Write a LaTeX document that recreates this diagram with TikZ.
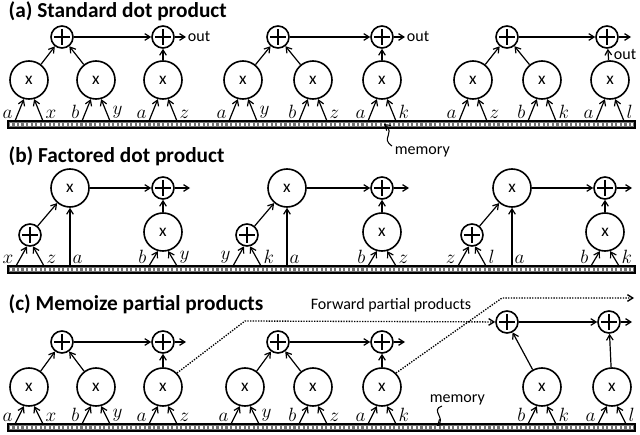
\documentclass[tikz,border=0pt]{standalone}
\usepackage{fontspec}
\setmainfont{Carlito}
\usetikzlibrary{arrows.meta,calc,decorations.pathmorphing}
\begin{document}
\begin{tikzpicture}[x=0.75pt,y=-0.75pt,line width=0.9pt,
  >={Straight Barb[length=4pt,width=5pt]},
  mul/.style={circle,draw,line width=1.2pt,minimum size=28.5pt,inner sep=0pt,font=\fontsize{13}{13}\selectfont},
  pls/.style={circle,draw,line width=1.2pt,minimum size=16.5pt,inner sep=0pt,
    path picture={\draw[line width=1.5pt]
      ([yshift=-2.2pt]path picture bounding box.north) -- ([yshift=2.2pt]path picture bounding box.south)
      ([xshift=2.2pt]path picture bounding box.west) -- ([xshift=-2.2pt]path picture bounding box.east);}},
  lab/.style={inner sep=1.5pt,font=\fontsize{14}{14}\selectfont},
  ttl/.style={anchor=west,inner sep=0pt,font=\fontsize{16}{16}\selectfont\bfseries},
  txt/.style={inner sep=1pt,font=\fontsize{12}{12}\selectfont}]
\useasboundingbox (0,0) rectangle (640,435);
\def\mulkind{mul}
\newcommand\membar[2]{%
  \draw[line width=0.8pt,fill=black!55] (8,#2) rectangle (635,#2+7);
  \draw[white,line width=1.6pt,dash pattern=on 1.8pt off 1.6pt] (10,#2+3.5) -- (633,#2+3.5);}
% two-input node: type, name, x, y, bartop, left, right, dx
\newcommand\twoin[8]{%
  \def\thiskind{#1}%
  \node[#1] (#2) at (#3,#4) {\ifx\thiskind\mulkind x\fi};
  \coordinate (#2l) at ({#3-#8},#5);
  \coordinate (#2r) at ({#3+#8},#5);
  \draw[->] (#2l) -- (#2.255);
  \draw[->] (#2r) -- (#2.285);
  \node[lab,anchor=south east] at (#2l) {$#6$};
  \node[lab,anchor=south west] at (#2r) {$#7$};}
% ---------- (a)
\node[ttl] (ta) at (8,11) {(a) Standard dot product};
\membar{a}{121}
\twoin{mul}{a1}{29}{80}{121}{a}{x}{14}
\twoin{mul}{a2}{96}{80}{121}{b}{y}{14}
\twoin{mul}{a3}{163}{80}{121}{a}{z}{14}
\twoin{mul}{a4}{243}{80}{121}{a}{y}{14}
\twoin{mul}{a5}{313}{80}{121}{b}{z}{14}
\twoin{mul}{a6}{382}{80}{121}{a}{k}{14}
\twoin{mul}{a7}{473}{80}{121}{a}{z}{14}
\twoin{mul}{a8}{542}{80}{121}{b}{k}{14}
\twoin{mul}{a9}{610}{80}{121}{a}{l}{14}
\node[pls] (ap1) at (62,37) {};
\node[pls] (ap2) at (163,37) {};
\node[pls] (ap3) at (278,37) {};
\node[pls] (ap4) at (382,37) {};
\node[pls] (ap5) at (507,37) {};
\node[pls] (ap6) at (607,37) {};
\draw[->] (a1) -- (ap1); \draw[->] (a2) -- (ap1); \draw[->] (ap1) -- (ap2); \draw[->] (a3) -- (ap2);
\draw[->] (a4) -- (ap3); \draw[->] (a5) -- (ap3); \draw[->] (ap3) -- (ap4); \draw[->] (a6) -- (ap4);
\draw[->] (a7) -- (ap5); \draw[->] (a8) -- (ap5); \draw[->] (ap5) -- (ap6); \draw[->] (a9) -- (ap6);
\coordinate (ao2) at (186,37); \draw[->] (ap2) -- (ao2); \node[txt,anchor=west] (oa2) at (ao2) {out};
\coordinate (ao4) at (405,37); \draw[->] (ap4) -- (ao4); \node[txt,anchor=west] (oa4) at (ao4) {out};
\coordinate (ao6) at (631,37); \draw[->] (ap6) -- (ao6); \node[txt,anchor=west] (oa6) at (612,55) {out};
\coordinate (am0) at (384,124);
\draw[->,line width=0.8pt] (392,146) .. controls (380,138) and (396,134) .. (am0);
\node[txt,anchor=west] (ma) at (393,152) {memory};
% ---------- (b)
\node[ttl] (tb) at (8,156) {(b) Factored dot product};
\membar{b}{266}
\newcommand\fgroup[8]{% prefix, xp, xb, xr, l1, l2, lb, ly
  \twoin{pls}{#1p}{#2}{235}{266}{#5}{#6}{14}
  \node[mul] (#1b) at (#3,188) {x};
  \coordinate (#1a) at (#3,266);
  \draw[->] (#1a) -- (#1b); \node[lab,anchor=south west] at (#1a) {$a$};
  \draw[->] (#1p) -- (#1b);
  \twoin{mul}{#1m}{#4}{232}{266}{#7}{#8}{14}
  \node[pls] (#1q) at (#4,188) {};
  \draw[->] (#1b) -- (#1q); \draw[->] (#1m) -- (#1q);
  \coordinate (#1o) at ({#4+27},188); \draw[->] (#1q) -- (#1o);}
\fgroup{b1}{30}{70}{163}{x}{z}{b}{y}
\fgroup{b2}{247}{287}{382}{y}{k}{b}{z}
\fgroup{b3}{472}{512}{605}{z}{l}{b}{k}
% ---------- (c)
\node[ttl] (tc) at (8,304) {(c) Memoize partial products};
\membar{c}{424}
\twoin{mul}{c1}{29}{387}{424}{a}{x}{14}
\twoin{mul}{c2}{96}{387}{424}{b}{y}{14}
\twoin{mul}{c3}{163}{387}{424}{a}{z}{14}
\twoin{mul}{c4}{245}{387}{424}{a}{y}{14}
\twoin{mul}{c5}{313}{387}{424}{b}{z}{14}
\twoin{mul}{c6}{382}{387}{424}{a}{k}{14}
\twoin{mul}{c7}{542}{387}{424}{b}{k}{14}
\twoin{mul}{c8}{612}{387}{424}{a}{l}{14}
\node[pls] (cp1) at (62,342) {};
\node[pls] (cp2) at (163,342) {};
\node[pls] (cp3) at (278,342) {};
\node[pls] (cp4) at (382,342) {};
\node[pls] (cp5) at (507,322) {};
\node[pls] (cp6) at (609,322) {};
\draw[->] (c1) -- (cp1); \draw[->] (c2) -- (cp1); \draw[->] (cp1) -- (cp2); \draw[->] (c3) -- (cp2);
\draw[->] (c4) -- (cp3); \draw[->] (c5) -- (cp3); \draw[->] (cp3) -- (cp4); \draw[->] (c6) -- (cp4);
\draw[->] (c7) -- (cp5); \draw[->] (cp5) -- (cp6); \draw[->] (c8) -- (cp6);
\coordinate (co2) at (186,342); \draw[->] (cp2) -- (co2);
\coordinate (co4) at (405,342); \draw[->] (cp4) -- (co4);
\coordinate (co6) at (632,322); \draw[->] (cp6) -- (co6);
\coordinate (cd1) at (245,321); \coordinate (cd2) at (502,298); \coordinate (cd3) at (634,298);
\draw[->,dash pattern=on 1pt off 1pt,line width=1pt] (c3.north east) -- (cd1) -- (cp5);
\draw[->,dash pattern=on 1pt off 1pt,line width=1pt] (c6.north east) -- (cd2) -- (cd3);
\node[txt,anchor=south] (fw) at (391,314) {Forward partial products};
\node[txt,anchor=west] (mc) at (428,400) {memory};
\coordinate (cm0) at (437,426);
\draw[->,line width=0.8pt] (442,406) .. controls (430,410) and (446,418) .. (cm0);
\end{tikzpicture}
\end{document}
